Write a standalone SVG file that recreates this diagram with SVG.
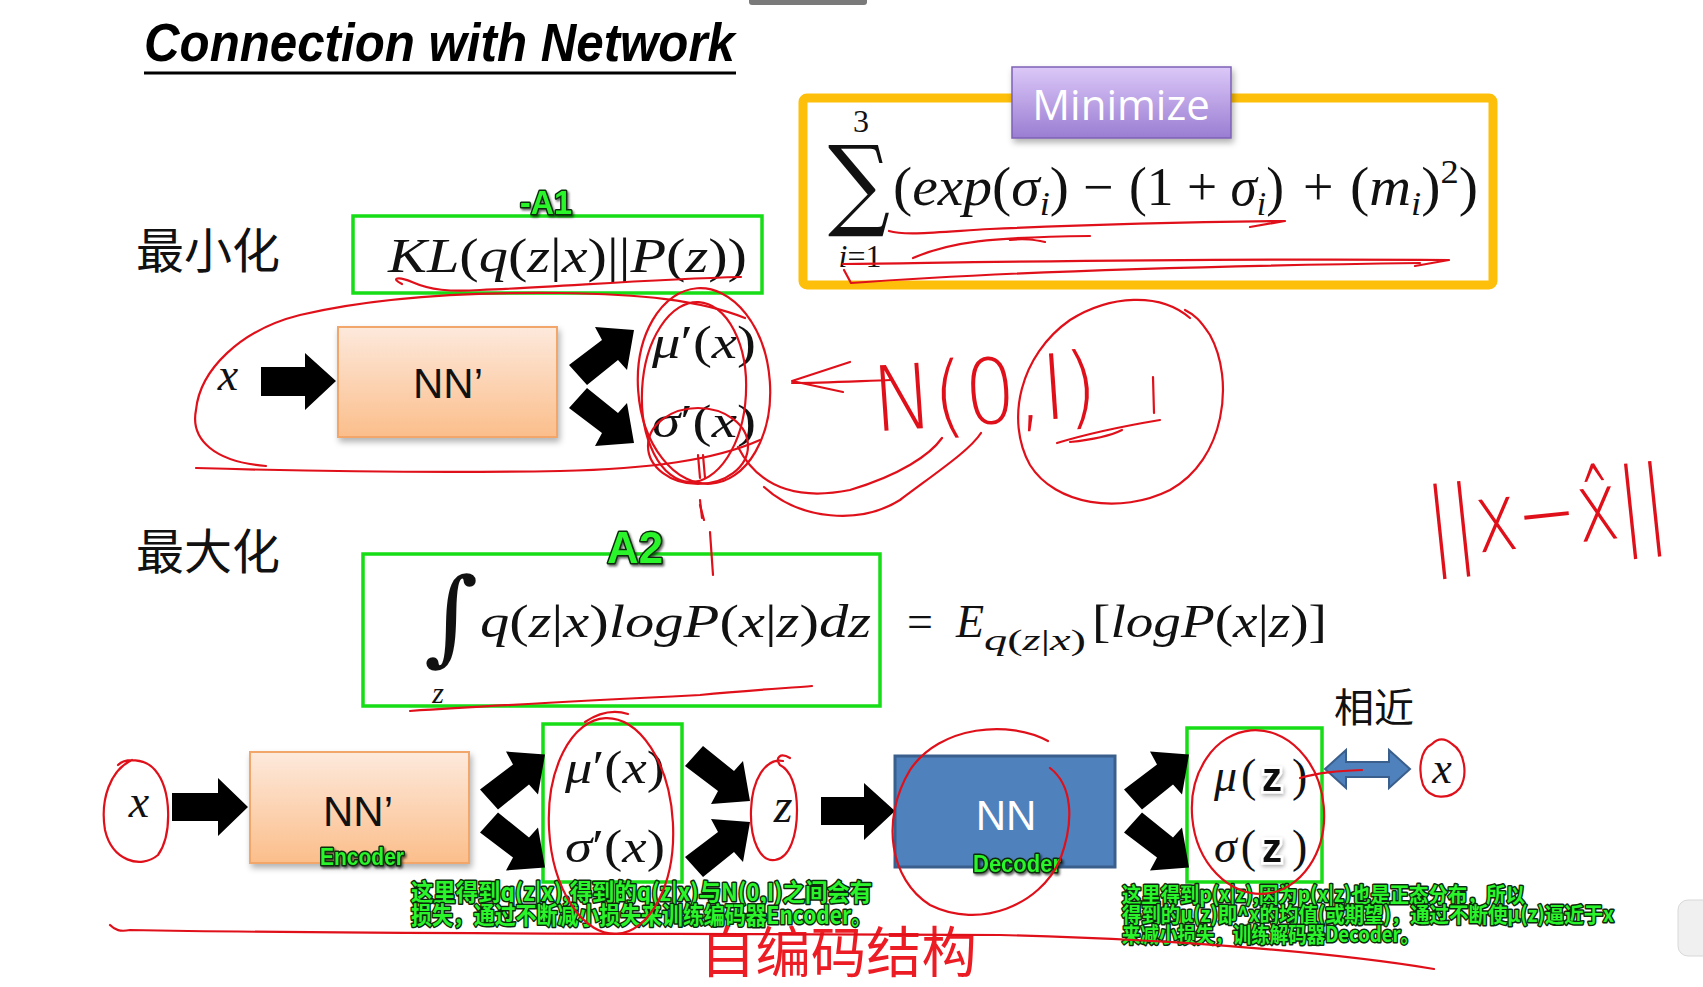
<svg xmlns="http://www.w3.org/2000/svg" width="1703" height="987" viewBox="0 0 1703 987">
<defs>
<linearGradient id="gOr" x1="0" y1="0" x2="0" y2="1"><stop offset="0" stop-color="#fde9dc"/><stop offset="1" stop-color="#fbbe8b"/></linearGradient>
<linearGradient id="gPu" x1="0" y1="0" x2="0" y2="1"><stop offset="0" stop-color="#dcc8f8"/><stop offset="1" stop-color="#9a7dd2"/></linearGradient>
<filter id="sh" x="-10%" y="-10%" width="130%" height="140%"><feDropShadow dx="2" dy="4" stdDeviation="3" flood-color="#000" flood-opacity="0.3"/></filter>
<filter id="gs" x="-10%" y="-20%" width="130%" height="150%"><feDropShadow dx="1.5" dy="2" stdDeviation="1.2" flood-color="#000" flood-opacity="0.6"/></filter>
<filter id="zs" x="-40%" y="-40%" width="180%" height="180%"><feDropShadow dx="1" dy="2" stdDeviation="2" flood-color="#000" flood-opacity="0.35"/></filter>
<path id="split" d="M0,-21.5 L33,-46.5 L26,-59.5 L65,-56.5 L58,-16.5 L49,-26.5 L18,-1.5 Z M0,21.5 L18,1.5 L49,26.5 L58,16.5 L65,56.5 L26,59.5 L33,46.5 Z"/>
<path id="arrDown" d="M0,21.5 L18,1.5 L49,26.5 L58,16.5 L65,56.5 L26,59.5 L33,46.5 Z"/>
<path id="arrUp" d="M0,-21.5 L33,-46.5 L26,-59.5 L65,-56.5 L58,-16.5 L49,-26.5 L18,-1.5 Z"/>
</defs>
<style>
.m{font-family:"Liberation Serif","DejaVu Serif",serif;font-style:italic;fill:#111}
.u{font-style:normal}
.cjk{font-family:"Noto Sans CJK SC",sans-serif;fill:#111}
.gbox{fill:none;stroke:#16dd16;stroke-width:3.5}
.glab{font-family:"Liberation Sans","Noto Sans CJK SC",sans-serif;font-weight:bold;fill:#2af52a;stroke:#0c2a0c;stroke-width:3;paint-order:stroke;stroke-linejoin:round}
.gtxt{font-family:"Noto Sans CJK SC",sans-serif;font-weight:bold;fill:#2af52a;stroke:#0c2a0c;stroke-width:3;paint-order:stroke;stroke-linejoin:round}
.blk{fill:#000}
.red{fill:none;stroke:#e0101a;stroke-width:2.2;stroke-linecap:round;stroke-linejoin:round}
.hw{font-family:"DejaVu Sans",sans-serif;font-weight:200;fill:#e0101a}
</style>
<rect width="1703" height="987" fill="#fff"/>
<rect x="749" y="-4" width="118" height="9" rx="3" fill="#7a7a7a"/>
<rect x="1678" y="900" width="40" height="56" rx="10" fill="#f0f0f0" stroke="#d8d8d8"/>

<g id="title">
<text x="144" y="61" font-family="Liberation Sans, sans-serif" font-weight="bold" font-style="italic" font-size="54" textLength="591" lengthAdjust="spacingAndGlyphs" fill="#000">Connection with Network</text>
<line x1="144" y1="73" x2="736" y2="73" stroke="#000" stroke-width="3"/>
</g>

<g id="minimize-box">
<rect x="803" y="98" width="690" height="187" rx="4" fill="none" stroke="#fdbf0a" stroke-width="9"/>
<rect x="1012" y="67" width="219" height="71" fill="url(#gPu)" stroke="#7d62b5" stroke-width="1.5" filter="url(#sh)"/>
<text x="1121" y="120" text-anchor="middle" font-family="Open Sans, Liberation Sans, sans-serif" font-size="42" fill="#fff">Minimize</text>
<text x="861" y="132" text-anchor="middle" font-family="Liberation Serif, serif" font-size="32" fill="#111">3</text>
<text x="828" y="217" font-family="DejaVu Serif, serif" font-size="100" fill="#111" textLength="62" lengthAdjust="spacingAndGlyphs">∑</text>
<text x="860" y="267" text-anchor="middle" font-family="Liberation Serif, serif" font-size="32" fill="#111"><tspan font-style="italic">i</tspan>=1</text>
<text class="m" x="893" y="205" font-size="54" textLength="176" lengthAdjust="spacingAndGlyphs"><tspan class="u">(</tspan>exp<tspan class="u">(</tspan>σ<tspan font-size="34" dy="10">i</tspan><tspan class="u" dy="-10">)</tspan></text>
<text class="m" x="1083" y="205" font-size="54"><tspan class="u">−</tspan></text>
<text class="m" x="1129" y="205" font-size="54" textLength="155" lengthAdjust="spacingAndGlyphs"><tspan class="u">(1 + </tspan>σ<tspan font-size="34" dy="10">i</tspan><tspan class="u" dy="-10">)</tspan></text>
<text class="m" x="1303" y="205" font-size="54"><tspan class="u">+</tspan></text>
<text class="m" x="1350" y="205" font-size="54" textLength="128" lengthAdjust="spacingAndGlyphs"><tspan class="u">(</tspan>m<tspan font-size="34" dy="10">i</tspan><tspan class="u" dy="-10">)</tspan><tspan font-size="34" dy="-22" class="u">2</tspan><tspan dy="22" class="u">)</tspan></text>
</g>

<g id="kl">
<text class="cjk" x="136" y="268" font-size="48">最小化</text>
<rect class="gbox" x="353" y="216" width="409" height="77"/>
<text class="glab" x="546" y="214" text-anchor="middle" font-size="34" textLength="52" lengthAdjust="spacingAndGlyphs" filter="url(#gs)">-A1</text>
<text class="m" x="388" y="272" font-size="48" textLength="359" lengthAdjust="spacingAndGlyphs">KL<tspan class="u">(</tspan>q<tspan class="u">(</tspan>z<tspan class="u">|</tspan>x<tspan class="u">)||</tspan>P<tspan class="u">(</tspan>z<tspan class="u">))</tspan></text>
</g>

<g id="row1">
<text class="m" x="228" y="390" font-size="46" text-anchor="middle">x</text>
<rect x="338" y="327" width="219" height="110" fill="url(#gOr)" stroke="#f3a66b" stroke-width="2" filter="url(#sh)"/>
<text x="448" y="398" text-anchor="middle" font-family="Liberation Sans, sans-serif" font-size="42" fill="#111">NN’</text>
<text class="m" x="652" y="358" font-size="46" textLength="104" lengthAdjust="spacingAndGlyphs">μ<tspan class="u">′(</tspan>x<tspan class="u">)</tspan></text>
<text class="m" x="652" y="437" font-size="46" textLength="104" lengthAdjust="spacingAndGlyphs">σ<tspan class="u">′(</tspan>x<tspan class="u">)</tspan></text>
</g>

<g id="elbo">
<text class="cjk" x="136" y="569" font-size="48">最大化</text>
<rect class="gbox" x="363" y="554" width="517" height="152"/>
<text class="glab" x="635" y="563" text-anchor="middle" font-size="44" textLength="56" lengthAdjust="spacingAndGlyphs" filter="url(#gs)">A2</text>
<text x="424" y="652" font-family="DejaVu Serif, serif" font-style="italic" font-size="104" fill="#111">∫</text>
<text class="m" x="438" y="703" font-size="30" text-anchor="middle">z</text>
<text class="m" x="480" y="637" font-size="46" textLength="391" lengthAdjust="spacingAndGlyphs">q<tspan class="u">(</tspan>z<tspan class="u">|</tspan>x<tspan class="u">)</tspan>logP<tspan class="u">(</tspan>x<tspan class="u">|</tspan>z<tspan class="u">)</tspan>dz</text>
<text class="m" x="907" y="637" font-size="46"><tspan class="u">=</tspan></text>
<text class="m" x="956" y="637" font-size="46">E</text>
<text class="m" x="984" y="650" font-size="30" textLength="102" lengthAdjust="spacingAndGlyphs">q<tspan class="u">(</tspan>z<tspan class="u">|</tspan>x<tspan class="u">)</tspan></text>
<text class="m" x="1092" y="637" font-size="46" textLength="235" lengthAdjust="spacingAndGlyphs"><tspan class="u">[</tspan>logP<tspan class="u">(</tspan>x<tspan class="u">|</tspan>z<tspan class="u">)]</tspan></text>
</g>

<g id="encoder">
<text class="m" x="139" y="817" font-size="46" text-anchor="middle">x</text>
<rect x="250" y="752" width="219" height="111" fill="url(#gOr)" stroke="#f3a66b" stroke-width="2" filter="url(#sh)"/>
<text x="358" y="826" text-anchor="middle" font-family="Liberation Sans, sans-serif" font-size="42" fill="#111">NN’</text>
<text class="glab" x="362" y="865" text-anchor="middle" font-size="23" textLength="84" lengthAdjust="spacingAndGlyphs" filter="url(#gs)">Encoder</text>
</g>

<g id="encoder-out">
<rect class="gbox" x="543" y="724" width="139" height="158"/>
<text class="m" x="565" y="783" font-size="46" textLength="100" lengthAdjust="spacingAndGlyphs">μ<tspan class="u">′(</tspan>x<tspan class="u">)</tspan></text>
<text class="m" x="565" y="862" font-size="46" textLength="100" lengthAdjust="spacingAndGlyphs">σ<tspan class="u">′(</tspan>x<tspan class="u">)</tspan></text>
</g>

<g id="z">
<text class="m" x="783" y="822" font-size="48" text-anchor="middle">z</text>
</g>

<g id="decoder">
<rect x="895" y="756" width="220" height="111" fill="#4f81bd" stroke="#3a5f8c" stroke-width="3"/>
<text x="1006" y="830" text-anchor="middle" font-family="Liberation Sans, sans-serif" font-size="42" fill="#fff">NN</text>
<text class="glab" x="1017" y="872" text-anchor="middle" font-size="23" textLength="88" lengthAdjust="spacingAndGlyphs" filter="url(#gs)">Decoder</text>
</g>

<g id="decoder-out">
<rect class="gbox" x="1187" y="728" width="135" height="154"/>
<text class="m" x="1214" y="791" font-size="46">μ<tspan class="u" dx="4">(</tspan></text>
<text x="1272" y="791" font-family="Liberation Sans, sans-serif" font-weight="bold" font-size="40" text-anchor="middle" fill="#111" stroke="#fff" stroke-width="5" paint-order="stroke" filter="url(#zs)">z</text>
<text class="m" x="1292" y="791" font-size="46"><tspan class="u">)</tspan></text>
<text class="m" x="1214" y="862" font-size="46">σ<tspan class="u" dx="4">(</tspan></text>
<text x="1272" y="862" font-family="Liberation Sans, sans-serif" font-weight="bold" font-size="40" text-anchor="middle" fill="#111" stroke="#fff" stroke-width="5" paint-order="stroke" filter="url(#zs)">z</text>
<text class="m" x="1292" y="862" font-size="46"><tspan class="u">)</tspan></text>
</g>

<g id="target-x">
<text class="cjk" x="1334" y="722" font-size="40">相近</text>
<text class="m" x="1442" y="783" font-size="44" text-anchor="middle">x</text>
</g>

<g id="connectors">
<path class="blk" d="M261,367 H305 V353 L336,381 L305,410 V396 H261 Z"/>
<use href="#split" transform="translate(569,386.5)"/>
<path class="blk" d="M172,793 H218 V778 L248,807 L218,836 V821 H172 Z"/>
<use href="#split" transform="translate(480,811)"/>
<use href="#arrDown" transform="translate(685,744.5)"/>
<use href="#arrUp" transform="translate(685,878.5)"/>
<path class="blk" d="M821,797 H864 V783 L895,811 L864,840 V825 H821 Z"/>
<use href="#split" transform="translate(1124,811)"/>
<path d="M1325,769 L1346,750 V762 H1389 V750 L1410,769 L1389,788 V777 H1346 V788 Z" fill="#4f81bd" stroke="#3a5f8c" stroke-width="2"/>
</g>

<g id="notes">
<text class="gtxt" x="411" y="901" font-size="24" textLength="461" lengthAdjust="spacingAndGlyphs">这里得到q(z|x),得到的q(z|x)与N(0,I)之间会有</text>
<text class="gtxt" x="411" y="924" font-size="24" textLength="461" lengthAdjust="spacingAndGlyphs">损失，通过不断减小损失来训练编码器Encoder。</text>
<text class="gtxt" x="1122" y="902" font-size="21" textLength="403" lengthAdjust="spacingAndGlyphs">这里得到p(x|z),因为p(x|z)也是正态分布，所以</text>
<text class="gtxt" x="1122" y="922" font-size="21" textLength="492" lengthAdjust="spacingAndGlyphs">得到的μ(z)即^x的均值(或期望)，通过不断使μ(z)逼近于x</text>
<text class="gtxt" x="1122" y="942" font-size="21" textLength="297" lengthAdjust="spacingAndGlyphs">来减小损失，训练解码器Decoder。</text>
<text x="700" y="972" font-family="Noto Sans CJK SC, sans-serif" font-size="55" fill="#ec1c24" textLength="277" lengthAdjust="spacingAndGlyphs">自编码结构</text>
</g>

<g id="ink">
<path class="red" d="M402,284 C 390,278 398,276 412,282 C 430,290 450,292 480,290 C 560,287 650,279 741,277"/>
<path class="red" d="M889,231 C 905,236 940,232 990,229 C 1100,224 1200,222 1285,221 L1250,227"/>
<path class="red" d="M913,258 C 950,242 990,237 1090,236 M1010,240 C 1025,238 1035,240 1045,242"/>
<path class="red" d="M843,264 C 1000,262 1200,258 1449,260 L1415,266"/>
<path class="red" d="M844,270 L851,283 C 1000,272 1200,266 1420,263"/>
<path class="red" d="M266,466 C 215,462 190,440 196,410 C 200,370 240,330 300,315 C 380,296 470,292 560,293 C 640,294 700,300 745,318"/>
<path class="red" d="M196,468 C 300,471 450,473 560,471 C 650,469 715,460 760,440"/>
<ellipse class="red" cx="704" cy="386" rx="66" ry="98" transform="rotate(-4 704 386)"/>
<ellipse class="red" cx="694" cy="392" rx="52" ry="90" transform="rotate(3 694 392)"/>
<ellipse class="red" cx="698" cy="446" rx="50" ry="38"/>
<path class="red" d="M698,455 L700,478 M703,455 L705,478 M700,500 L702,518 M710,532 L713,575"/>
<path class="red" d="M850,362 L792,381 L843,392 M792,383 C 820,383 860,381 891,380"/>
<text class="hw" x="872" y="424" font-size="90" textLength="225" lengthAdjust="spacingAndGlyphs" transform="rotate(-4 980 390)">N(0,I)</text>
<path class="red" d="M1190,318 C 1160,292 1110,295 1070,320 C 1020,355 1005,420 1030,465 C 1055,505 1120,515 1170,490 C 1225,460 1235,380 1210,335 C 1200,320 1195,315 1185,310"/>
<path class="red" d="M1153,377 L1154,413 M1057,443 C 1090,433 1130,425 1160,420 M1070,442 C 1090,440 1110,436 1122,430"/>
<path class="red" d="M738,447 C 760,490 800,500 850,490 C 900,475 930,455 942,438 M764,487 C 800,520 860,525 900,500 C 940,470 970,450 981,433"/>
<text class="hw" x="1425" y="545" font-size="96" textLength="240" lengthAdjust="spacingAndGlyphs" transform="rotate(-6 1550 500)">||x−x̂||</text>
<path class="red" d="M410,711 C 500,705 600,700 700,695 C 750,690 790,688 812,686"/>
<path class="red" d="M700,505 L704,520"/>
<path class="red" d="M132,760 C 110,770 100,800 105,830 C 112,860 140,870 158,855 C 172,835 172,790 155,770 C 145,758 125,758 118,765"/>
<ellipse class="red" cx="611" cy="826" rx="62" ry="108" transform="rotate(-3 611 826)"/>
<path class="red" d="M585,722 C 600,712 615,710 628,714"/>
<path class="red" d="M783,761 C 765,758 752,780 751,810 C 750,840 760,862 775,860 C 790,858 797,835 797,810 C 797,785 790,770 780,765 C 775,758 780,752 790,758"/>
<path class="red" d="M1048,741 C 1010,720 940,725 910,770 C 880,820 890,880 930,905 C 980,930 1040,905 1060,860 C 1075,820 1072,785 1050,768"/>
<ellipse class="red" cx="1258" cy="812" rx="66" ry="82" transform="rotate(-5 1258 812)"/>
<path class="red" d="M1300,778 C 1320,772 1340,771 1362,770"/>
<path class="red" d="M1432,744 C 1420,750 1418,770 1423,785 C 1430,800 1450,800 1460,788 C 1468,775 1465,752 1452,744 C 1445,738 1438,738 1432,744"/>
<path class="red" d="M110,925 C 115,930 120,932 130,930 C 400,935 700,933 1000,935 C 1200,940 1350,955 1434,969"/>
</g>
</svg>
